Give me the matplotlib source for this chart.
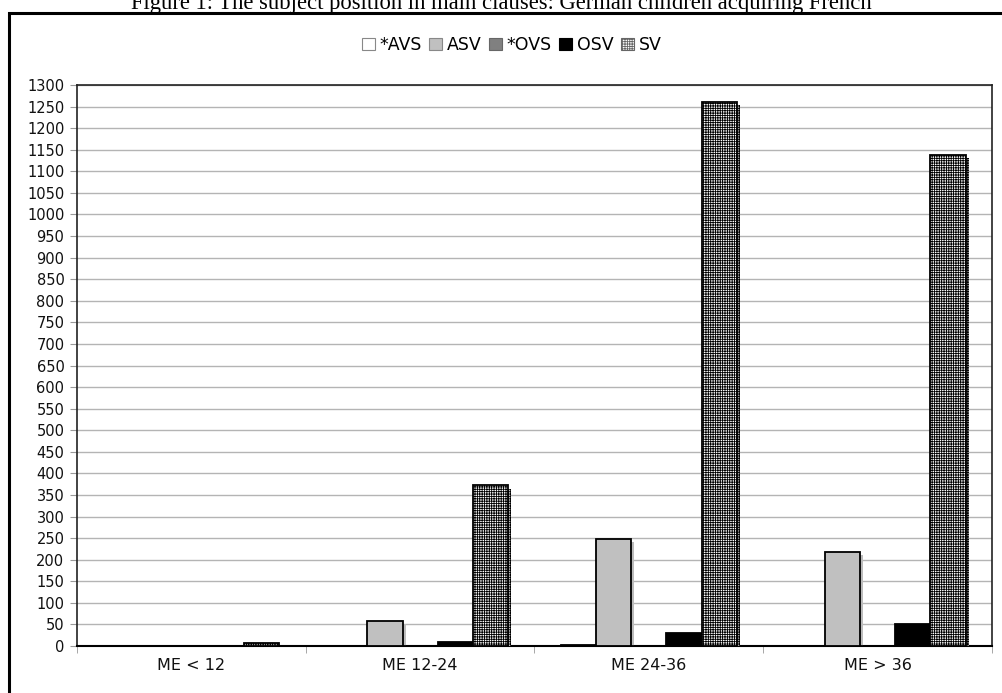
import matplotlib
matplotlib.use("Agg")
import matplotlib.pyplot as plt
import matplotlib.patheffects as pe
from matplotlib.patches import Rectangle, Patch
import numpy as np

categories = ["ME < 12", "ME 12-24", "ME 24-36", "ME > 36"]
series = ["*AVS", "ASV", "*OVS", "OSV", "SV"]
avs = [0, 0, 2, 0]
asv = [0, 57, 248, 218]
ovs = [0, 0, 0, 0]
osv = [0, 10, 30, 52]
sv = [7, 372, 1260, 1138]
values = [avs, asv, ovs, osv, sv]
yticks = list(range(0, 1301, 50))
title = "Figure 1: The subject position in main clauses: German children acquiring French"

faces = ["white", "#c0c0c0", "#808080", "black", "white"]
hatches = [None, None, None, None, "+++++++"]

plt.rcParams['font.family'] = ['DejaVu Sans']
plt.rcParams['hatch.linewidth'] = 0.6

fig = plt.figure(figsize=(10.03, 6.93), dpi=100)
fig.patch.set_facecolor("white")

# outer frame
fig.patches.append(Rectangle((9.5/1003, -0.2), 2.0, 1.2 - 13/693,
                             transform=fig.transFigure, fill=False,
                             edgecolor="black", linewidth=2.2, zorder=0))
fig.text(0.5, 1.0 - 3.5/693, title, ha="center", va="center",
         family="Liberation Serif", fontsize=16.3)

ax = fig.add_axes([77/1003, 1 - 646/693, (992 - 77)/1003, (646 - 85)/693])
n = len(series)
bw = 1 / 6.5
x = np.arange(len(categories))
shadow = [pe.SimplePatchShadow(offset=(2.2, -2.2), shadow_rgbFace="#bcbcbc", alpha=1.0), pe.Normal()]
for i, (s, vals) in enumerate(zip(series, values)):
    pos = x + (i - (n - 1) / 2) * bw
    bars = ax.bar(pos, vals, width=bw, color=faces[i], edgecolor="black",
                  linewidth=1.3, hatch=hatches[i], zorder=3, label=s)
    for b in bars:
        if b.get_height() > 0:
            b.set_path_effects(shadow)

ax.set_xlim(-0.5, len(categories) - 0.5)
ax.set_ylim(0, 1300)
ax.set_yticks(yticks)
ax.set_yticklabels([str(t) for t in yticks], fontsize=10.5, color="#111111")
ax.set_xticks(x)
ax.set_xticklabels(categories, fontsize=11.5, color="#111111")
ax.set_xticks(np.arange(-0.5, len(categories), 1), minor=True)
ax.tick_params(axis="x", which="major", length=0, pad=9)
ax.tick_params(axis="x", which="minor", length=5, color="#999999", direction="out")
ax.tick_params(axis="y", length=5, color="#999999", direction="out", pad=4)
ax.grid(axis="y", color="#b4b4b4", linewidth=1.0, zorder=0)
ax.set_axisbelow(True)
for sp in ["left", "top", "right"]:
    ax.spines[sp].set_color("#222222")
    ax.spines[sp].set_linewidth(1.2)
ax.spines["bottom"].set_color("black")
ax.spines["bottom"].set_linewidth(1.5)

handles = []
edge = ["#888888", "#888888", "#666666", "black", "#666666"]
for i, s in enumerate(series):
    handles.append(Patch(facecolor=faces[i], edgecolor=edge[i], hatch=hatches[i], linewidth=0.8, label=s))
fig.legend(handles=handles, labels=series, loc="center", bbox_to_anchor=(0.51, 1 - 45/693),
           ncol=5, frameon=False, fontsize=12.5, handlelength=0.75, handleheight=0.75,
           handletextpad=0.25, columnspacing=0.45)

fig.savefig("out.png", dpi=100, facecolor="white")
